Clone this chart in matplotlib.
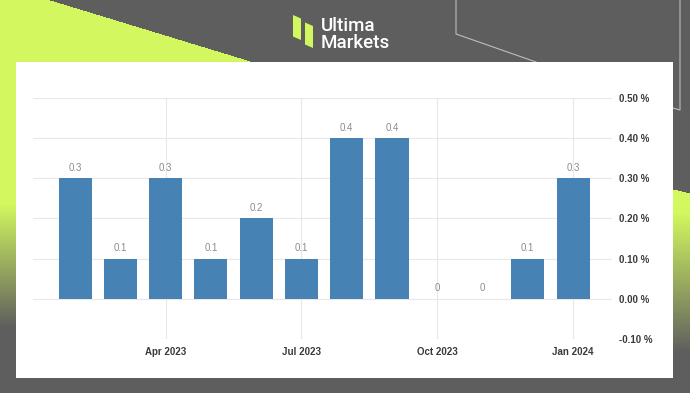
import numpy as np
import matplotlib
matplotlib.use("Agg")
import matplotlib.pyplot as plt
from matplotlib.patches import Polygon, Rectangle

# ---- data ----
months = ["Feb 2023", "Mar 2023", "Apr 2023", "May 2023", "Jun 2023", "Jul 2023",
          "Aug 2023", "Sep 2023", "Oct 2023", "Nov 2023", "Dec 2023", "Jan 2024"]
values = [0.3, 0.1, 0.3, 0.1, 0.2, 0.1, 0.4, 0.4, 0.0, 0.0, 0.1, 0.3]
xtick_labels = ["Apr 2023", "Jul 2023", "Oct 2023", "Jan 2024"]
yticks = [-0.1, 0.0, 0.1, 0.2, 0.3, 0.4, 0.5]

W, H = 690, 393
LIME = np.array([0xd3, 0xf8, 0x5f]) / 255.0
GRAY = np.array([0x5e, 0x5e, 0x5e]) / 255.0
BAR = "#4682b4"
TICKFONT = ["Liberation Sans", "DejaVu Sans"]

fig = plt.figure(figsize=(W / 100, H / 100), dpi=100)

# ---- background decoration (pixel coordinates) ----
bg = fig.add_axes([0, 0, 1, 1])
bg.set_xlim(0, W)
bg.set_ylim(H, 0)
bg.axis("off")

yy, xx = np.mgrid[0:H, 0:W].astype(float)
img = np.ones((H, W, 3)) * GRAY
left_mask = yy > (xx - 50) * 0.305
tl = np.clip((yy - 203) / (327 - 203), 0, 1)[..., None]
left_col = LIME * (1 - tl) + GRAY * tl
img = np.where(left_mask[..., None], left_col, img)
right_mask = (xx > 600) & (yy > 189 + (xx - 673) * 0.24)
tr = np.clip((yy - 212) / (352 - 212), 0, 1)[..., None]
right_col = LIME * (1 - tr) + GRAY * tr
img = np.where(right_mask[..., None], right_col, img)
bg.imshow(img, extent=(0, W, H, 0), aspect="auto", interpolation="bilinear", zorder=0)

# thin outline lines top-right
bg.plot([456, 456, 536], [0, 34, 62], color="#bdbdbd", lw=0.8, zorder=1)
bg.plot([680, 680, 673], [0, 110, 108], color="#bdbdbd", lw=0.8, zorder=1)

# white panel
bg.add_patch(Rectangle((16, 62), 657, 316, facecolor="white", edgecolor="none", zorder=2))

# logo
bg.add_patch(Polygon([(293, 15), (301, 18.5), (301, 40), (293, 36.5)], closed=True,
                     facecolor="#d3f85f", edgecolor="none", zorder=3))
bg.add_patch(Polygon([(305, 22.5), (313, 26), (313, 48), (305, 44.5)], closed=True,
                     facecolor="#d3f85f", edgecolor="none", zorder=3))
bg.text(321, 31, "Ultima", color="white", fontsize=13.5, fontweight="medium",
        family=["Roboto", "DejaVu Sans"], ha="left", va="baseline", zorder=3)
bg.text(321, 47.5, "Markets", color="white", fontsize=13.5, fontweight="medium",
        family=["Roboto", "DejaVu Sans"], ha="left", va="baseline", zorder=3)

# ---- chart ----
ax = fig.add_axes([33 / W, 1 - 339 / H, (612 - 33) / W, (339 - 98) / H])
ax.patch.set_alpha(0)
x = np.arange(len(months))
ax.bar(x, values, width=0.73, color=BAR, edgecolor="none", linewidth=0, zorder=3)
for xi, v in zip(x, values):
    ax.annotate(f"{v:g}", (xi, v), xytext=(0, 4), textcoords="offset points",
                ha="center", va="bottom", fontsize=7, color="#8c8c8c",
                family=TICKFONT, zorder=4)

ax.set_xlim(-0.93, 11.86)
ax.set_ylim(-0.1, 0.5)
ax.set_yticks(yticks)
ax.set_yticklabels([f"{v:.2f} %" for v in yticks])
ax.yaxis.tick_right()
ax.set_xticks([months.index(m) for m in xtick_labels])
ax.set_xticklabels(xtick_labels)
ax.tick_params(axis="both", length=0, labelsize=7, labelcolor="#3a3a3a")
ax.tick_params(axis="y", pad=5)
ax.tick_params(axis="x", pad=6)
for lab in ax.get_xticklabels() + ax.get_yticklabels():
    lab.set_fontweight("bold")
    lab.set_family(TICKFONT)
ax.grid(True, color="#e8e8e8", linewidth=0.8, zorder=0)
for s in ax.spines.values():
    s.set_visible(False)

fig.savefig("out.png", dpi=100)
